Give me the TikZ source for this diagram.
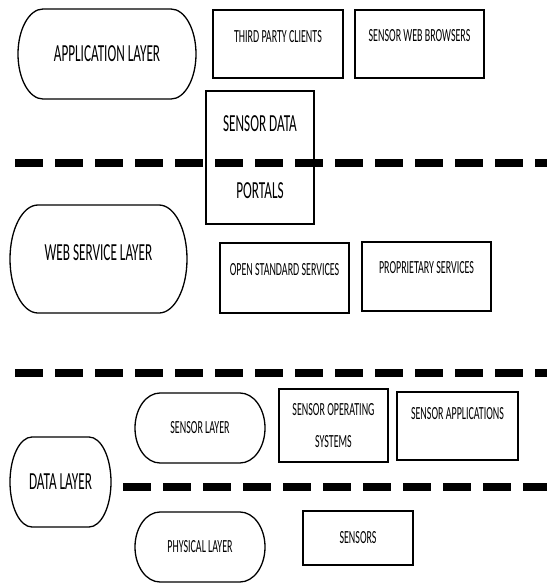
\documentclass[tikz,border=0pt]{standalone}
\usepackage{fontspec}
\setmainfont{Carlito}[FakeStretch=0.54]
\tikzset{
  big/.style={font=\fontsize{24.5}{29}\selectfont},
  small/.style={font=\fontsize{18.5}{22}\selectfont},
  boxnode/.style={draw=black, line width=1.6pt, inner sep=0pt, outer sep=0pt},
  toptext/.style={text height=12pt, text depth=#1},
  stadnode/.style={inner sep=0pt, outer sep=0pt},
  stadline/.style={line width=1.3pt},
  sepline/.style={line width=7.5pt, dash pattern=on 28pt off 12pt}
}
\newcommand\stadshape[3]{%
  \draw[stadline] ([xshift=#2]#1.north west) -- ([xshift=-#2]#1.north east)
    arc[start angle=90,end angle=-90,x radius=#2,y radius=#3]
    -- ([xshift=#2]#1.south west)
    arc[start angle=270,end angle=90,x radius=#2,y radius=#3] -- cycle;}
\begin{document}
\begin{tikzpicture}[x=1pt,y=-1pt]
\useasboundingbox (0,0) rectangle (547,584);
% application layer
\node[stadnode, big, minimum width=178pt, minimum height=90pt] (app) at (107,54) {APPLICATION LAYER};
\stadshape{app}{25pt}{45pt}
\node[boxnode, small, minimum width=130pt, minimum height=68pt, toptext=16pt] (tpc) at (278,44) {THIRD PARTY CLIENTS};
\node[boxnode, small, minimum width=129pt, minimum height=68pt, toptext=18pt] (swb) at (419.5,44) {SENSOR WEB BROWSERS};
\node[boxnode, big, minimum width=108pt, minimum height=133pt, align=center] (sdp) at (260,157.5) {SENSOR DATA\\[38pt]PORTALS};
% separator 1
\coordinate (s1a) at (15,163);
\coordinate (s1b) at (547,163);
\draw[sepline] (s1a) -- (s1b);
% web service layer
\node[stadnode, big, minimum width=177pt, minimum height=108pt, text height=15.8pt, text depth=12pt] (web) at (98.5,259) {WEB SERVICE LAYER};
\stadshape{web}{28pt}{54pt}
\node[boxnode, small, minimum width=129pt, minimum height=70pt, toptext=18pt] (oss) at (284.5,278) {OPEN STANDARD SERVICES};
\node[boxnode, small, minimum width=129pt, minimum height=69pt, toptext=19pt] (prs) at (426.5,276.5) {PROPRIETARY SERVICES};
% separator 2
\coordinate (s2a) at (15,373);
\coordinate (s2b) at (547,373);
\draw[sepline] (s2a) -- (s2b);
% data layer
\node[stadnode, small, minimum width=130pt, minimum height=70pt] (sl) at (200,428) {SENSOR LAYER};
\stadshape{sl}{25pt}{35pt}
\node[boxnode, small, minimum width=109pt, minimum height=73pt, align=center] (sos) at (333.5,425.5) {SENSOR OPERATING\\[10pt]SYSTEMS};
\node[boxnode, small, minimum width=121pt, minimum height=68pt, toptext=26pt] (sap) at (457.5,426) {SENSOR APPLICATIONS};
\node[stadnode, big, minimum width=101pt, minimum height=90pt] (dl) at (60.5,482) {DATA LAYER};
\stadshape{dl}{22pt}{45pt}
% separator 3
\coordinate (s3a) at (123,487);
\coordinate (s3b) at (547,487);
\draw[sepline] (s3a) -- (s3b);
\node[stadnode, small, minimum width=130pt, minimum height=70pt] (pl) at (200,547) {PHYSICAL LAYER};
\stadshape{pl}{25pt}{35pt}
\node[boxnode, small, minimum width=110pt, minimum height=54pt] (sns) at (358,538) {SENSORS};
\end{tikzpicture}
\end{document}
